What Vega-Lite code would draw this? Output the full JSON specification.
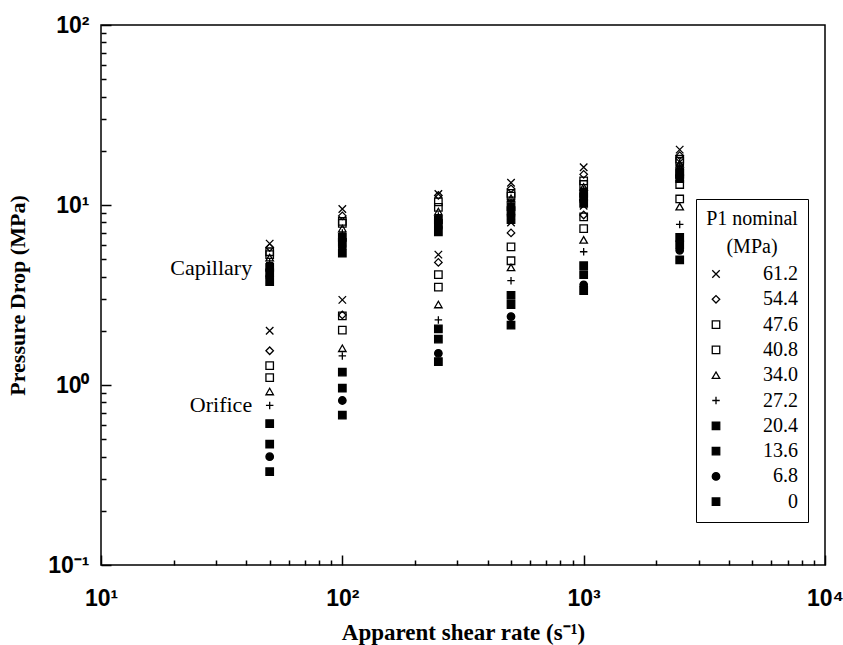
{
  "$schema": "https://vega.github.io/schema/vega-lite/v6.json",
  "width": 724,
  "height": 540,
  "autosize": "none",
  "padding": {"left": 101, "top": 25, "right": 18, "bottom": 80},
  "background": "white",
  "config": {
    "view": {"stroke": "black", "strokeWidth": 1.5},
    "axis": {"grid": false, "domain": false, "tickColor": "black", "tickWidth": 1.5, "labelColor": "black", "titleColor": "black"},
    "legend": {
      "orient": "none", "legendX": 595, "legendY": 174,
      "strokeColor": "black", "fillColor": "white", "padding": 10,
      "titleFont": "Liberation Serif", "titleFontSize": 20, "titleFontWeight": "normal", "titleColor": "black",
      "titleAnchor": "middle", "titleLineHeight": 28, "titlePadding": 7, "titleLimit": 300,
      "labelFont": "Liberation Serif", "labelFontSize": 20, "labelColor": "black", "labelAlign": "right", "labelOffset": 72,
      "symbolSize": 56, "symbolStrokeColor": "black", "symbolStrokeWidth": 1.3, "rowPadding": 5.3
    }
  },
  "datasets": {
    "pts": [
      {"x": 50, "t": "C", "p": "61.2", "v": 6.1},
      {"x": 50, "t": "C", "p": "54.4", "v": 5.8},
      {"x": 50, "t": "C", "p": "47.6", "v": 5.5},
      {"x": 50, "t": "C", "p": "40.8", "v": 5.3},
      {"x": 50, "t": "C", "p": "34.0", "v": 5.1},
      {"x": 50, "t": "C", "p": "27.2", "v": 4.8},
      {"x": 50, "t": "C", "p": "20.4", "v": 4.5},
      {"x": 50, "t": "C", "p": "13.6", "v": 4.2},
      {"x": 50, "t": "C", "p": "6.8", "v": 4.0},
      {"x": 50, "t": "C", "p": "0", "v": 3.75},
      {"x": 50, "t": "O", "p": "61.2", "v": 2.0},
      {"x": 50, "t": "O", "p": "54.4", "v": 1.55},
      {"x": 50, "t": "O", "p": "47.6", "v": 1.28},
      {"x": 50, "t": "O", "p": "40.8", "v": 1.1},
      {"x": 50, "t": "O", "p": "34.0", "v": 0.92},
      {"x": 50, "t": "O", "p": "27.2", "v": 0.77},
      {"x": 50, "t": "O", "p": "20.4", "v": 0.61},
      {"x": 50, "t": "O", "p": "13.6", "v": 0.47},
      {"x": 50, "t": "O", "p": "6.8", "v": 0.40},
      {"x": 50, "t": "O", "p": "0", "v": 0.33},
      {"x": 100, "t": "C", "p": "61.2", "v": 9.5},
      {"x": 100, "t": "C", "p": "54.4", "v": 8.7},
      {"x": 100, "t": "C", "p": "47.6", "v": 8.1},
      {"x": 100, "t": "C", "p": "40.8", "v": 7.9},
      {"x": 100, "t": "C", "p": "34.0", "v": 7.4},
      {"x": 100, "t": "C", "p": "27.2", "v": 7.0},
      {"x": 100, "t": "C", "p": "20.4", "v": 6.6},
      {"x": 100, "t": "C", "p": "13.6", "v": 6.2},
      {"x": 100, "t": "C", "p": "6.8", "v": 5.8},
      {"x": 100, "t": "C", "p": "0", "v": 5.4},
      {"x": 100, "t": "O", "p": "61.2", "v": 2.97},
      {"x": 100, "t": "O", "p": "54.4", "v": 2.45},
      {"x": 100, "t": "O", "p": "47.6", "v": 2.42},
      {"x": 100, "t": "O", "p": "40.8", "v": 2.02},
      {"x": 100, "t": "O", "p": "34.0", "v": 1.6},
      {"x": 100, "t": "O", "p": "27.2", "v": 1.45},
      {"x": 100, "t": "O", "p": "20.4", "v": 1.18},
      {"x": 100, "t": "O", "p": "13.6", "v": 0.96},
      {"x": 100, "t": "O", "p": "6.8", "v": 0.82},
      {"x": 100, "t": "O", "p": "0", "v": 0.68},
      {"x": 250, "t": "C", "p": "61.2", "v": 11.5},
      {"x": 250, "t": "C", "p": "54.4", "v": 11.3},
      {"x": 250, "t": "C", "p": "47.6", "v": 10.4},
      {"x": 250, "t": "C", "p": "40.8", "v": 9.7},
      {"x": 250, "t": "C", "p": "34.0", "v": 9.2},
      {"x": 250, "t": "C", "p": "27.2", "v": 8.7},
      {"x": 250, "t": "C", "p": "20.4", "v": 8.3},
      {"x": 250, "t": "C", "p": "13.6", "v": 7.9},
      {"x": 250, "t": "C", "p": "6.8", "v": 7.5},
      {"x": 250, "t": "C", "p": "0", "v": 7.1},
      {"x": 250, "t": "O", "p": "61.2", "v": 5.3},
      {"x": 250, "t": "O", "p": "54.4", "v": 4.8},
      {"x": 250, "t": "O", "p": "47.6", "v": 4.1},
      {"x": 250, "t": "O", "p": "40.8", "v": 3.5},
      {"x": 250, "t": "O", "p": "34.0", "v": 2.8},
      {"x": 250, "t": "O", "p": "27.2", "v": 2.3},
      {"x": 250, "t": "O", "p": "20.4", "v": 2.05},
      {"x": 250, "t": "O", "p": "13.6", "v": 1.8},
      {"x": 250, "t": "O", "p": "6.8", "v": 1.5},
      {"x": 250, "t": "O", "p": "0", "v": 1.35},
      {"x": 500, "t": "C", "p": "61.2", "v": 13.3},
      {"x": 500, "t": "C", "p": "54.4", "v": 12.3},
      {"x": 500, "t": "C", "p": "47.6", "v": 11.6},
      {"x": 500, "t": "C", "p": "40.8", "v": 11.2},
      {"x": 500, "t": "C", "p": "34.0", "v": 10.9},
      {"x": 500, "t": "C", "p": "27.2", "v": 10.6},
      {"x": 500, "t": "C", "p": "20.4", "v": 9.8},
      {"x": 500, "t": "C", "p": "13.6", "v": 9.3},
      {"x": 500, "t": "C", "p": "6.8", "v": 8.8},
      {"x": 500, "t": "C", "p": "0", "v": 8.3},
      {"x": 500, "t": "O", "p": "61.2", "v": 8.0},
      {"x": 500, "t": "O", "p": "54.4", "v": 7.0},
      {"x": 500, "t": "O", "p": "47.6", "v": 5.85},
      {"x": 500, "t": "O", "p": "40.8", "v": 4.9},
      {"x": 500, "t": "O", "p": "34.0", "v": 4.5},
      {"x": 500, "t": "O", "p": "27.2", "v": 3.8},
      {"x": 500, "t": "O", "p": "20.4", "v": 3.15},
      {"x": 500, "t": "O", "p": "13.6", "v": 2.8},
      {"x": 500, "t": "O", "p": "6.8", "v": 2.4},
      {"x": 500, "t": "O", "p": "0", "v": 2.15},
      {"x": 1000, "t": "C", "p": "61.2", "v": 16.2},
      {"x": 1000, "t": "C", "p": "54.4", "v": 14.8},
      {"x": 1000, "t": "C", "p": "47.6", "v": 13.6},
      {"x": 1000, "t": "C", "p": "40.8", "v": 13.0},
      {"x": 1000, "t": "C", "p": "34.0", "v": 12.6},
      {"x": 1000, "t": "C", "p": "27.2", "v": 12.2},
      {"x": 1000, "t": "C", "p": "20.4", "v": 11.6},
      {"x": 1000, "t": "C", "p": "13.6", "v": 11.1},
      {"x": 1000, "t": "C", "p": "6.8", "v": 10.6},
      {"x": 1000, "t": "C", "p": "0", "v": 10.2},
      {"x": 1000, "t": "O", "p": "61.2", "v": 9.9},
      {"x": 1000, "t": "O", "p": "54.4", "v": 8.8},
      {"x": 1000, "t": "O", "p": "47.6", "v": 8.6},
      {"x": 1000, "t": "O", "p": "40.8", "v": 7.4},
      {"x": 1000, "t": "O", "p": "34.0", "v": 6.4},
      {"x": 1000, "t": "O", "p": "27.2", "v": 5.5},
      {"x": 1000, "t": "O", "p": "20.4", "v": 4.6},
      {"x": 1000, "t": "O", "p": "13.6", "v": 4.1},
      {"x": 1000, "t": "O", "p": "6.8", "v": 3.6},
      {"x": 1000, "t": "O", "p": "0", "v": 3.35},
      {"x": 2500, "t": "C", "p": "61.2", "v": 20.3},
      {"x": 2500, "t": "C", "p": "54.4", "v": 18.8},
      {"x": 2500, "t": "C", "p": "47.6", "v": 18.0},
      {"x": 2500, "t": "C", "p": "40.8", "v": 17.5},
      {"x": 2500, "t": "C", "p": "34.0", "v": 17.0},
      {"x": 2500, "t": "C", "p": "27.2", "v": 16.5},
      {"x": 2500, "t": "C", "p": "20.4", "v": 15.3},
      {"x": 2500, "t": "C", "p": "13.6", "v": 14.8},
      {"x": 2500, "t": "C", "p": "6.8", "v": 14.3},
      {"x": 2500, "t": "C", "p": "0", "v": 14.0},
      {"x": 2500, "t": "O", "p": "61.2", "v": 17.3},
      {"x": 2500, "t": "O", "p": "54.4", "v": 15.8},
      {"x": 2500, "t": "O", "p": "47.6", "v": 13.0},
      {"x": 2500, "t": "O", "p": "40.8", "v": 10.8},
      {"x": 2500, "t": "O", "p": "34.0", "v": 9.8},
      {"x": 2500, "t": "O", "p": "27.2", "v": 7.8},
      {"x": 2500, "t": "O", "p": "20.4", "v": 6.6},
      {"x": 2500, "t": "O", "p": "13.6", "v": 6.0},
      {"x": 2500, "t": "O", "p": "6.8", "v": 5.6},
      {"x": 2500, "t": "O", "p": "0", "v": 4.95}
    ],
    "ann": [
      {"x": 42.3, "v": 4.47, "label": "Capillary"},
      {"x": 42.3, "v": 0.774, "label": "Orifice"}
    ]
  },
  "layer": [
    {
      "data": {"name": "pts"},
      "mark": {"type": "point", "strokeWidth": 1.3, "size": 56, "opacity": 1},
      "encoding": {
        "x": {
          "field": "x", "type": "quantitative",
          "scale": {"type": "log", "domain": [10, 10000], "nice": false},
          "axis": {
            "orient": "bottom", "values": [10, 100, 1000, 10000], "tickSize": 10, "offset": -10,
            "labelExpr": "datum.value == 10 ? '10¹' : datum.value == 100 ? '10²' : datum.value == 1000 ? '10³' : '10⁴'",
            "labelFont": "Liberation Sans", "labelFontWeight": "bold", "labelFontSize": 23, "labelPadding": 22,
            "labelFlush": false, "labelOverlap": false,
            "title": "Apparent shear rate (s⁻¹)", "titleFont": "Liberation Serif", "titleFontWeight": "bold", "titleFontSize": 23, "titlePadding": 11
          }
        },
        "y": {
          "field": "v", "type": "quantitative",
          "scale": {"type": "log", "domain": [0.1, 100], "nice": false},
          "axis": {
            "orient": "left", "values": [0.1, 1, 10, 100], "tickSize": 10, "offset": -10,
            "labelExpr": "datum.value < 0.5 ? '10⁻¹' : datum.value < 5 ? '10⁰' : datum.value < 50 ? '10¹' : '10²'",
            "labelFont": "Liberation Sans", "labelFontWeight": "bold", "labelFontSize": 23, "labelPadding": 12,
            "labelFlush": false, "labelOverlap": false,
            "title": "Pressure Drop (MPa)", "titleFont": "Liberation Serif", "titleFontWeight": "bold", "titleFontSize": 22, "titlePadding": 18
          }
        },
        "shape": {
          "field": "p", "type": "nominal",
          "scale": {
            "domain": ["61.2", "54.4", "47.6", "40.8", "34.0", "27.2", "20.4", "13.6", "6.8", "0"],
            "range": ["M-1,-1L1,1M-1,1L1,-1", "diamond", "square", "square", "triangle-up", "M-1,0L1,0M0,-1L0,1", "square", "square", "circle", "square"]
          },
          "legend": {"title": ["P1 nominal", "(MPa)"]}
        },
        "fill": {
          "field": "p", "type": "nominal",
          "scale": {
            "domain": ["61.2", "54.4", "47.6", "40.8", "34.0", "27.2", "20.4", "13.6", "6.8", "0"],
            "range": ["transparent", "transparent", "transparent", "transparent", "transparent", "transparent", "black", "black", "black", "black"]
          },
          "legend": {"title": ["P1 nominal", "(MPa)"]}
        },
        "stroke": {
          "field": "p", "type": "nominal",
          "scale": {
            "domain": ["61.2", "54.4", "47.6", "40.8", "34.0", "27.2", "20.4", "13.6", "6.8", "0"],
            "range": ["black", "black", "black", "black", "black", "black", "black", "black", "black", "black"]
          },
          "legend": {"title": ["P1 nominal", "(MPa)"]}
        }
      }
    },
    {
      "data": {"name": "ann"},
      "mark": {"type": "text", "align": "right", "baseline": "middle", "font": "Liberation Serif", "fontSize": 22, "color": "black"},
      "encoding": {
        "x": {
          "field": "x", "type": "quantitative",
          "scale": {"type": "log", "domain": [10, 10000], "nice": false},
          "axis": {"orient": "bottom", "offset": -5, "values": [20, 30, 40, 50, 60, 70, 80, 90, 200, 300, 400, 500, 600, 700, 800, 900, 2000, 3000, 4000, 5000, 6000, 7000, 8000, 9000], "tickSize": 5, "labels": false, "title": null}
        },
        "y": {
          "field": "v", "type": "quantitative",
          "scale": {"type": "log", "domain": [0.1, 100], "nice": false},
          "axis": {"orient": "left", "offset": -5, "values": [0.2, 0.3, 0.4, 0.5, 0.6, 0.7, 0.8, 0.9, 2, 3, 4, 5, 6, 7, 8, 9, 20, 30, 40, 50, 60, 70, 80, 90], "tickSize": 5, "labels": false, "title": null}
        },
        "text": {"field": "label", "type": "nominal"}
      }
    }
  ],
  "resolve": {"axis": {"x": "independent", "y": "independent"}}
}
